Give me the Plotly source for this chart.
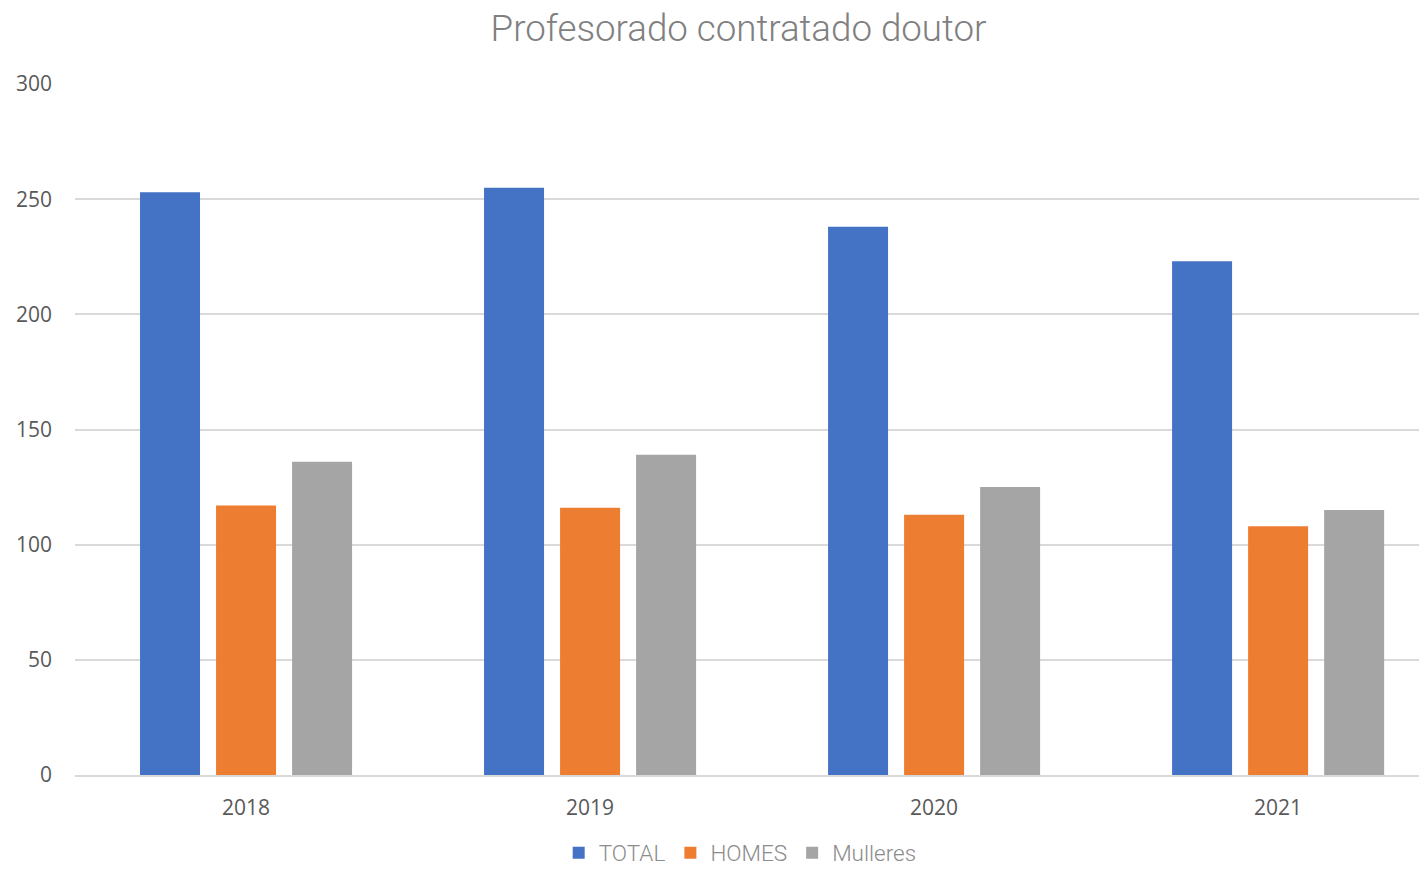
import plotly.graph_objects as go

years = ["2018", "2019", "2020", "2021"]
total = [253, 255, 238, 223]
homes = [117, 116, 113, 108]
mulleres = [136, 139, 125, 115]

series = [
    ("TOTAL", total, "#4472c4", -0.308),
    ("HOMES", homes, "#ed7d31", -0.087),
    ("Mulleres", mulleres, "#a5a5a5", 0.134),
]

fig = go.Figure()
for name, vals, color, off in series:
    fig.add_trace(
        go.Bar(
            x=years,
            y=vals,
            name=name,
            marker={"color": color, "line": {"width": 0}},
            width=0.1744,
            offset=off,
        )
    )

# the page body has an 8px margin, so the figure is a bit smaller than the window
fig.update_layout(
    width=1419,
    height=861,
    barmode="overlay",
    plot_bgcolor="white",
    paper_bgcolor="white",
    margin={"l": 67, "r": 0, "t": 76, "b": 94, "autoexpand": False},
    title={
        "text": "Profesorado contratado doutor",
        "x": 0.5148,
        "xanchor": "center",
        "y": 0.977,
        "yanchor": "middle",
        "font": {"family": "Roboto Light, Roboto", "size": 36.7, "color": "#808080", "weight": 300},
    },
    font={"family": "Open Sans", "size": 21, "color": "#595959"},
    showlegend=True,
    legend={
        "orientation": "h",
        "x": 0.492,
        "xanchor": "center",
        "y": -0.113,
        "yanchor": "middle",
        "font": {"family": "Roboto Light, Roboto", "size": 22.5, "color": "#8c8c8c", "weight": 300},
        "itemwidth": 30,
    },
    xaxis={
        "type": "category",
        "range": [-0.497, 3.433],
        "showgrid": False,
        "showline": True,
        "linecolor": "#d9d9d9",
        "linewidth": 2,
        "ticks": "",
        "ticklabelstandoff": 13,
        "tickfont": {"size": 21, "color": "#595959"},
    },
    yaxis={
        "range": [0, 300],
        "dtick": 50,
        "showgrid": True,
        "gridcolor": "#d9d9d9",
        "gridwidth": 1.5,
        "zeroline": False,
        "showline": False,
        "ticks": "",
        "ticklabelstandoff": 22,
        "tickfont": {"size": 21, "color": "#595959"},
    },
)

fig.write_html("out.html")
